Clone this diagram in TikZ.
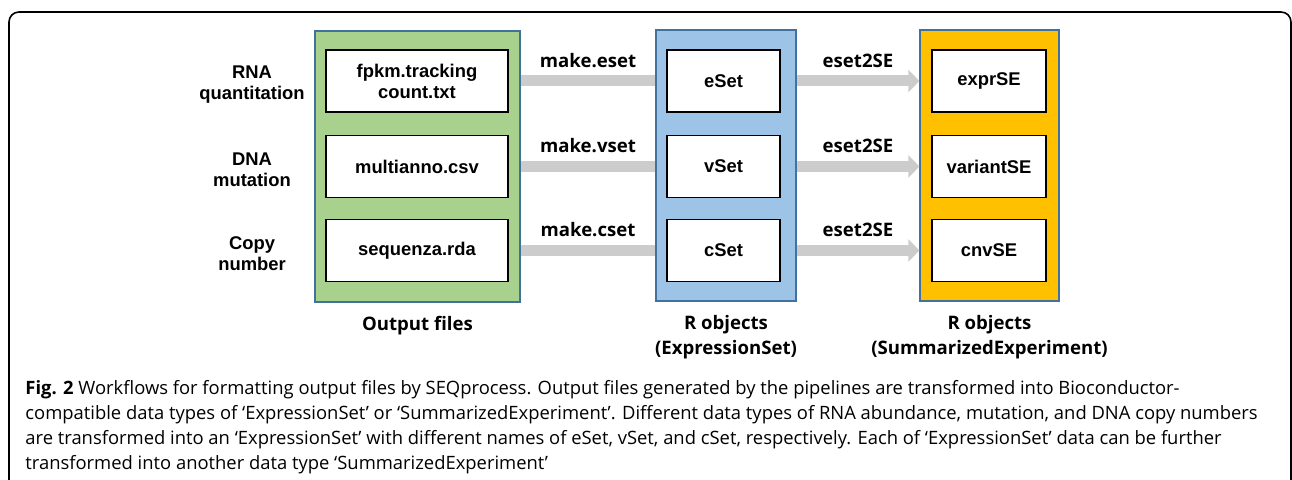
\documentclass[tikz,border=0pt]{standalone}
\usepackage{fontspec}
\setmainfont{Liberation Sans}
\newfontfamily\opensans{Open Sans}
\usetikzlibrary{positioning,arrows.meta}

\definecolor{filegreen}{HTML}{A9D18E}
\definecolor{esetblue}{HTML}{9DC3E6}
\definecolor{segold}{HTML}{FFC000}
\definecolor{panelline}{HTML}{41719C}
\definecolor{flowgray}{HTML}{CCCCCC}

\newcommand{\itemfont}{\fontsize{9.2pt}{10.5pt}\selectfont\bfseries}
\newcommand{\labfont}{\opensans\fontsize{9.3pt}{12.5pt}\selectfont\bfseries}
\newcommand{\capfont}{\opensans\fontsize{9.2pt}{12.5pt}\selectfont}

\begin{document}
\begin{tikzpicture}[x=0.5pt, y=-0.5pt,
  panel/.style={draw=panelline, line width=0.6pt, minimum height=135.5pt},
  item/.style={draw, fill=white, line width=0.9pt, align=center, font=\itemfont, minimum height=31pt},
  rowlabel/.style={align=center, font=\itemfont},
  flow/.style={draw=flowgray, line width=5.5pt},
  flowlabel/.style={font=\labfont, inner sep=0pt, above=4pt},
  paneltitle/.style={font=\labfont, align=center, inner sep=0pt, below=6.5pt of #1}]

\useasboundingbox (0,0) rectangle (1292,480);
\draw[line width=0.8pt, rounded corners=5pt] (9,500) -- (9,12) -- (1291,12) -- (1291,500);

\node[panel, fill=filegreen, minimum width=102.5pt] (files) at (417.5,166.5) {};
\node[panel, fill=esetblue, minimum width=70pt] (eset) at (726,165.5) {};
\node[panel, fill=segold, minimum width=69.5pt] (sumexp) at (989.5,165.5) {};

\foreach \name/\txt/\y in {f1/{fpkm.tracking\\count.txt}/81, f2/multianno.csv/166.5, f3/sequenza.rda/250.5}
  \node[item, minimum width=91pt] (\name) at (417,\y) {\txt};
\foreach \name/\txt/\y in {e1/eSet/81, e2/vSet/166.5, e3/cSet/250.5}
  \node[item, minimum width=56.5pt] (\name) at (723.5,\y) {\txt};
\foreach \name/\txt/\y in {s1/exprSE/81, s2/variantSE/166.5, s3/cnvSE/250.5}
  \node[item, minimum width=57pt] (\name) at (989,\y) {\txt};

\node[rowlabel] (rna) at (252,85) {RNA\\quantitation};
\node[rowlabel] (dna) at (252,169.5) {DNA\\mutation};
\node[rowlabel] (cnv) at (252,253.5) {Copy\\number};

\foreach \a/\b/\lab in {f1/e1/make.eset, f2/e2/make.vset, f3/e3/make.cset}
  \draw[flow] (\a -| files.east) -- (\b -| eset.west) node[flowlabel, midway] {\lab};
\foreach \a/\b in {e1/s1, e2/s2, e3/s3}
  \draw[flow, -{Triangle[length=5.5pt, width=11pt]}] (\a -| eset.east) -- (\b -| sumexp.west)
    node[flowlabel, midway] {eset2SE};

\node[paneltitle=files] (filestitle) {Output files};
\node[paneltitle=eset] (esettitle) {R objects\\(ExpressionSet)};
\node[paneltitle=sumexp] (setitle) {R objects\\(SummarizedExperiment)};

\node[font=\capfont, align=left, anchor=north west, inner sep=0pt] (caption) at (25,380)
  {\textbf{Fig. 2} Workflows for formatting output files by SEQprocess. Output files generated by the pipelines are transformed into Bioconductor-\\
   compatible data types of ‘ExpressionSet’ or ‘SummarizedExperiment’. Different data types of RNA abundance, mutation, and DNA copy numbers\\
   are transformed into an ‘ExpressionSet’ with different names of eSet, vSet, and cSet, respectively. Each of ‘ExpressionSet’ data can be further\\
   transformed into another data type ‘SummarizedExperiment’};
\end{tikzpicture}
\end{document}
